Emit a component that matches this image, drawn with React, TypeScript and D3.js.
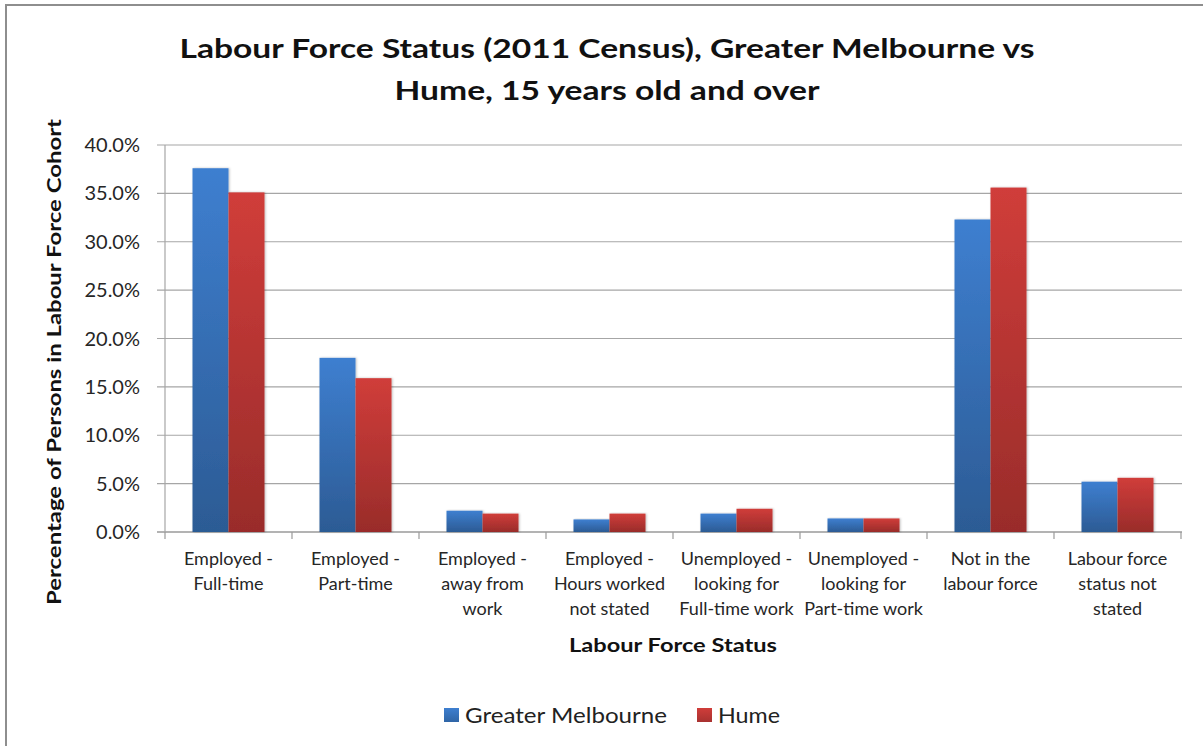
import React from "react";
import * as d3 from "d3";

const categories = [
  "Employed -\nFull-time",
  "Employed -\nPart-time",
  "Employed -\naway from\nwork",
  "Employed -\nHours worked\nnot stated",
  "Unemployed -\nlooking for\nFull-time work",
  "Unemployed -\nlooking for\nPart-time work",
  "Not in the\nlabour force",
  "Labour force\nstatus not\nstated",
];
const seriesNames = ["Greater Melbourne", "Hume"];
const greaterMelbourne = [37.6, 18.0, 2.2, 1.3, 1.9, 1.4, 32.3, 5.2];
const hume = [35.1, 15.9, 1.9, 1.9, 2.4, 1.4, 35.6, 5.6];
const yTicks = [0, 5, 10, 15, 20, 25, 30, 35, 40];
const titleLines = [
  "Labour Force Status (2011 Census), Greater Melbourne vs",
  "Hume, 15 years old and over",
];
const yTitle = "Percentage of Persons in Labour Force Cohort";
const xTitle = "Labour Force Status";

const W = 1203;
const H = 746;
const FONT = "Lato, 'Open Sans', sans-serif";

export default function App() {
  const left = 165;
  const right = 1181;
  const top = 145;
  const bottom = 532;
  const x0 = d3.scaleBand<string>().domain(categories).range([left, right]).paddingInner(0).paddingOuter(0);
  const x1 = d3.scaleBand<string>().domain(seriesNames).range([0, x0.bandwidth()]).paddingInner(0).paddingOuter(0.764);
  const y = d3.scaleLinear().domain([0, 40]).range([bottom, top]);
  const values = [greaterMelbourne, hume];
  const gradIds = ["gradBlue", "gradRed"];

  return (
    <svg width={W} height={H} style={{ position: "absolute", left: 0, top: 0, background: "#fff" }}>
      <defs>
        <linearGradient id="gradBlue" x1="0" y1="0" x2="0" y2="1">
          <stop offset="0" stopColor="#3e7fd0" />
          <stop offset="1" stopColor="#2c5b94" />
        </linearGradient>
        <linearGradient id="gradRed" x1="0" y1="0" x2="0" y2="1">
          <stop offset="0" stopColor="#d03d3a" />
          <stop offset="1" stopColor="#992c2a" />
        </linearGradient>
        <linearGradient id="legBlue" x1="0" y1="0" x2="0" y2="1">
          <stop offset="0" stopColor="#3e7fd0" />
          <stop offset="1" stopColor="#2f65a6" />
        </linearGradient>
        <linearGradient id="legRed" x1="0" y1="0" x2="0" y2="1">
          <stop offset="0" stopColor="#d03d3a" />
          <stop offset="1" stopColor="#a83230" />
        </linearGradient>
        <filter id="shadow" x="-20%" y="-5%" width="140%" height="110%">
          <feDropShadow dx="1" dy="0" stdDeviation="1.2" floodColor="#000" floodOpacity="0.25" />
        </filter>
      </defs>
      <rect x={0} y={0} width={W} height={H} fill="#fff" />
      {/* chart border */}
      <line x1={6} y1={5} x2={W} y2={5} stroke="#8e8e8e" strokeWidth={2} />
      <line x1={6} y1={4} x2={6} y2={H} stroke="#8e8e8e" strokeWidth={2} />

      {/* title */}
      <text x={607} y={58} textAnchor="middle" fontFamily={FONT} fontWeight="bold" fontSize={27} fill="#111"
        textLength={855} lengthAdjust="spacingAndGlyphs">{titleLines[0]}</text>
      <text x={607} y={100} textAnchor="middle" fontFamily={FONT} fontWeight="bold" fontSize={27} fill="#111"
        textLength={425} lengthAdjust="spacingAndGlyphs">{titleLines[1]}</text>

      {/* gridlines */}
      {yTicks.map((t) => (
        <line key={t} x1={157} x2={right + 1} y1={y(t)} y2={y(t)} stroke={t === 0 ? "#9a9a9a" : "#a6a6a6"} strokeWidth={t === 0 ? 1.5 : 1.2} />
      ))}
      {/* y axis */}
      <line x1={left} x2={left} y1={top} y2={bottom} stroke="#a6a6a6" strokeWidth={1.2} />
      {yTicks.map((t) => (
        <text key={t} x={140} y={y(t) + 7} textAnchor="end" fontFamily={FONT} fontSize={20} fill="#262626">
          {d3.format(".1f")(t) + "%"}
        </text>
      ))}
      {/* x ticks */}
      {categories.map((c) => (
        <line key={c} x1={x0(c)!} x2={x0(c)!} y1={bottom} y2={bottom + 7} stroke="#9a9a9a" strokeWidth={1.2} />
      ))}
      <line x1={right} x2={right} y1={bottom} y2={bottom + 7} stroke="#9a9a9a" strokeWidth={1.2} />

      {/* bars */}
      {categories.map((c, i) => (
        <g key={c}>
          {seriesNames.map((s, si) => {
            const v = values[si][i];
            return (
              <rect key={s} x={x0(c)! + x1(s)!} y={y(v)} width={x1.bandwidth()} height={bottom - y(v)}
                fill={`url(#${gradIds[si]})`} filter="url(#shadow)" />
            );
          })}
        </g>
      ))}

      {/* category labels */}
      {categories.map((c) => {
        const cx = x0(c)! + x0.bandwidth() / 2;
        return (
          <text key={c} x={cx} textAnchor="middle" fontFamily={FONT} fontSize={18} fill="#262626">
            {c.split("\n").map((ln, k) => (
              <tspan key={k} x={cx} y={565 + k * 25}>{ln}</tspan>
            ))}
          </text>
        );
      })}

      {/* axis titles */}
      <text x={673} y={652} textAnchor="middle" fontFamily={FONT} fontWeight="bold" fontSize={19.5} fill="#111"
        textLength={208} lengthAdjust="spacingAndGlyphs">{xTitle}</text>
      <text transform={`translate(61,362) rotate(-90)`} textAnchor="middle" fontFamily={FONT} fontWeight="bold" fontSize={19.5} fill="#111"
        textLength={486} lengthAdjust="spacingAndGlyphs">{yTitle}</text>

      {/* legend */}
      <rect x={444} y={708} width={15} height={14} fill="url(#legBlue)" />
      <text x={465} y={723} fontFamily={FONT} fontSize={21} fill="#222" textLength={202} lengthAdjust="spacingAndGlyphs">{seriesNames[0]}</text>
      <rect x={697} y={708} width={15} height={14} fill="url(#legRed)" />
      <text x={718} y={723} fontFamily={FONT} fontSize={21} fill="#222" textLength={62} lengthAdjust="spacingAndGlyphs">{seriesNames[1]}</text>
    </svg>
  );
}
